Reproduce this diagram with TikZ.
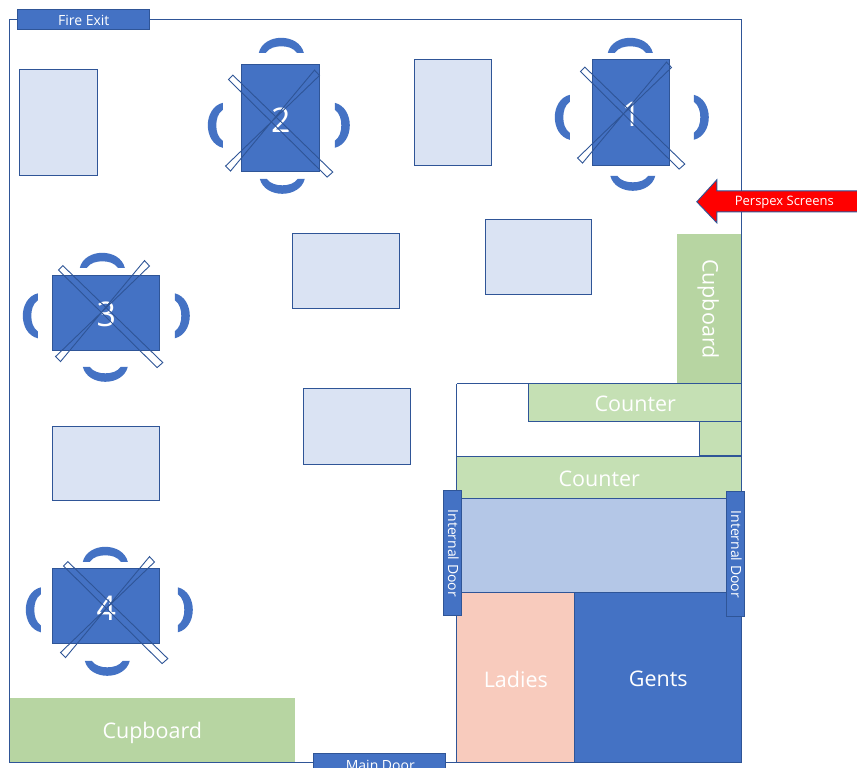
\documentclass[tikz,border=0pt]{standalone}
\usepackage{fontspec}
\setmainfont{Open Sans}
\usepackage[HTML]{xcolor}
\definecolor{lineblue}{HTML}{2F5597}
\definecolor{darkblue}{HTML}{4472C4}
\definecolor{paleblue}{HTML}{DAE3F3}
\definecolor{midblue}{HTML}{B4C7E7}
\definecolor{cupgreen}{HTML}{B7D5A2}
\definecolor{countergreen}{HTML}{C5E0B4}
\definecolor{ladiespink}{HTML}{F8CBBD}
\tikzset{
  wall/.style={draw=lineblue, line width=0.9pt},
  freetable/.style={fill=paleblue, draw=lineblue, line width=0.9pt},
  shuttable/.style={fill=darkblue, draw=lineblue, line width=0.9pt},
  doorbox/.style={fill=darkblue, draw=lineblue, line width=0.9pt},
  counterbox/.style={fill=countergreen, draw=lineblue, line width=0.9pt},
  bigtext/.style={text=white, font=\fontsize{21.5}{24}\selectfont},
  lowered/.style={yshift=-1.5pt},
  numtext/.style={text=white, yshift=-1.5pt, font=\fontsize{34}{36}\selectfont},
  doortext/.style={text=white, font=\fontsize{14}{16}\selectfont},
  seat/.pic={
    \fill[darkblue] (-22.5,0) .. controls (-20,-10) and (-10,-15) .. (0,-15)
      .. controls (10,-15) and (20,-10) .. (22.5,0) -- (15.5,0)
      .. controls (12,-5) and (6,-6.5) .. (0,-6.5)
      .. controls (-6,-6.5) and (-12,-5) .. (-15.5,0) -- cycle;
  },
  crossbars/.pic={
    \draw[lineblue, line width=0.9pt] (-50.8,-41.3) -- (-46.5,-45.7) -- (53.5,51.3) -- (47.8,56.3) -- cycle;
    \draw[lineblue, line width=0.9pt] (35.2,-50.7) -- (40.2,-45.3) -- (-53.8,45.3) -- (-48.8,50.3) -- cycle;
  }
}
\begin{document}
\begin{tikzpicture}[x=1pt, y=-1pt]
\useasboundingbox (0.2,0.2) rectangle (857.2,768.2);
\fill[white] (0,0) rectangle (858,769);

% --- Cupboards ---
\fill[cupgreen] (677,234) rectangle (742,383);
\fill[cupgreen] (10,698) rectangle (295,763);
\node[bigtext, rotate=-90] (cupboardside) at (708.5,309) {Cupboard};
\node[bigtext] (cupboardfloor) at (152.5,733.5) {Cupboard};

% --- Room ---
\draw[wall] (10,20) rectangle (742,763);
\draw[doorbox] (18,10) rectangle (150,30);
\node[doortext] (fireexit) at (84,20.5) {Fire Exit};
\draw[doorbox] (314,754) rectangle (446,775);
\node[doortext] (maindoor) at (380.5,766) {Main Door};

% --- Free tables ---
\draw[freetable] (20,70) rectangle (98,176);
\draw[freetable] (415,60) rectangle (492,166);
\draw[freetable] (293,234) rectangle (400,309);
\draw[freetable] (486,220) rectangle (592,295);
\draw[freetable] (304,389) rectangle (411,465);
\draw[freetable] (53,427) rectangle (160,501);

% --- Table 1 ---
\draw[shuttable] (593,60) rectangle node[numtext] (tableone) {1} (670,166);
\pic at (630.5,53) {seat};
\pic[rotate=180] at (633,176) {seat};
\pic[rotate=90] at (570,117.5) {seat};
\pic[rotate=-90] at (694,117.5) {seat};
\pic at (631.5,113) {crossbars};

% --- Table 2 ---
\draw[shuttable] (242,65) rectangle node[numtext] (tabletwo) {2} (320,172);
\pic at (281.5,53) {seat};
\pic[rotate=180] at (282.5,179) {seat};
\pic[rotate=90] at (223,125.5) {seat};
\pic[rotate=-90] at (335,125.5) {seat};
\pic at (279.5,121) {crossbars};

% --- Table 3 ---
\draw[shuttable] (53,276) rectangle node[numtext] (tablethree) {3} (160,351);
\pic at (102.5,268) {seat};
\pic[rotate=180] at (105.5,367) {seat};
\pic[rotate=90] at (38,316) {seat};
\pic[rotate=-90] at (175,316) {seat};
\pic at (109.5,311.5) {crossbars};

% --- Table 4 ---
\draw[shuttable] (53,569) rectangle node[numtext] (tablefour) {4} (160,644);
\pic at (105.5,562) {seat};
\pic[rotate=180] at (107.5,661) {seat};
\pic[rotate=90] at (41,610) {seat};
\pic[rotate=-90] at (178,610) {seat};
\pic at (114.5,607.5) {crossbars};

% --- Counter area ---
\draw[wall] (457,384) -- (457,763);
\draw[wall] (457,384) -- (529,384);
\draw[counterbox] (529,384) rectangle node[bigtext, lowered] (countertop) {Counter} (742,422);
\draw[counterbox] (700,422) rectangle (742,456);
\draw[counterbox] (457,457) rectangle node[bigtext, lowered] (counterlow) {Counter} (742,499);
\draw[fill=midblue, draw=lineblue, line width=0.9pt] (457,499) rectangle (742,593);
\draw[fill=ladiespink, draw=lineblue, line width=0.9pt] (457,593) rectangle node[bigtext, lowered] (ladies) {Ladies} (575,763);
\draw[fill=darkblue, draw=lineblue, line width=0.9pt] (575,593) rectangle node[bigtext, lowered] (gents) {Gents} (742,763);

% --- Internal doors ---
\draw[doorbox] (444,491) rectangle (462,616);
\node[doortext, rotate=-90] (doorleft) at (453.5,553.5) {Internal Door};
\draw[doorbox] (727,492) rectangle (745,617);
\node[doortext, rotate=-90] (doorright) at (736.5,554.5) {Internal Door};

% --- Screens arrow ---
\draw[fill=red, draw=lineblue, line width=0.9pt] (697,202) -- (717,180) -- (717,191) -- (860,191) -- (860,212) -- (717,212) -- (717,223) -- cycle;
\node[text=white, font=\fontsize{13}{15}\selectfont] (perspex) at (784.5,203) {Perspex Screens};
\end{tikzpicture}
\end{document}
